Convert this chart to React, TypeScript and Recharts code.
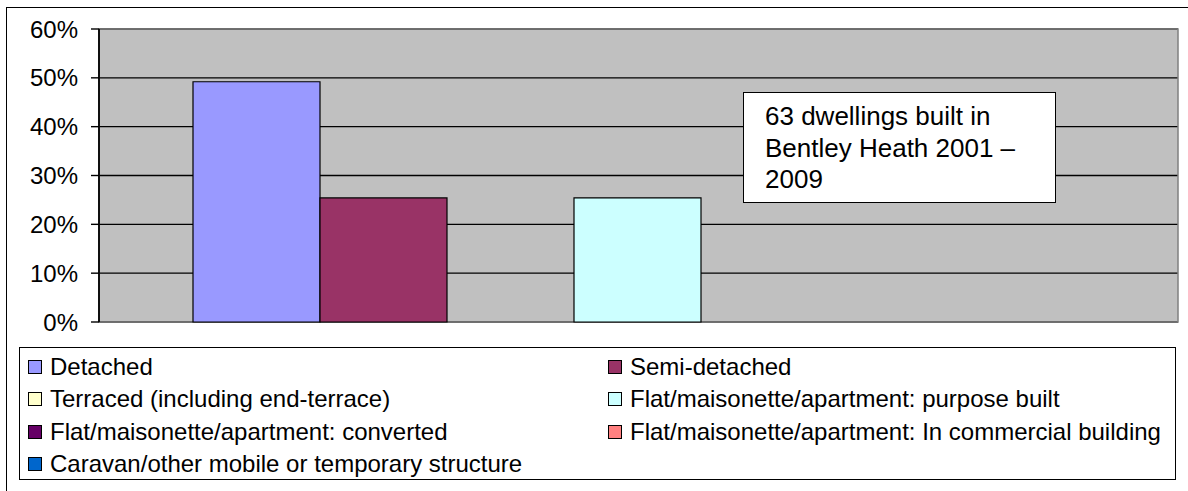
import React from "react";
import { BarChart, Bar, XAxis, YAxis, CartesianGrid, ReferenceArea, Legend } from "recharts";

const categories = ["Bentley Heath"];
const seriesNames = [
  "Detached",
  "Semi-detached",
  "Terraced (including end-terrace)",
  "Flat/maisonette/apartment: purpose built",
  "Flat/maisonette/apartment: converted",
  "Flat/maisonette/apartment: In commercial building",
  "Caravan/other mobile or temporary structure",
];
const seriesValues = [49.2, 25.4, 0, 25.4, 0, 0, 0];
const seriesColors = ["#9999FF", "#993366", "#FFFFCC", "#CCFFFF", "#660066", "#FF8080", "#0066CC"];
const yTicks = [0, 10, 20, 30, 40, 50, 60];
const noteLines = ["63 dwellings built in", "Bentley Heath 2001 –", "2009"];

const data = categories.map((c) => {
  const row: Record<string, string | number> = { cat: c };
  seriesNames.forEach((n, i) => {
    row["s" + i] = seriesValues[i];
  });
  return row;
});

const FONT = "'Liberation Sans', Arial, sans-serif";

const LegendContent = () => (
  <div
    style={{
      boxSizing: "border-box",
      width: 1157,
      height: 133,
      border: "1px solid #000",
      background: "#fff",
      fontFamily: FONT,
      fontSize: 24,
      color: "#000",
      paddingTop: 3,
      display: "grid",
      gridTemplateColumns: "580px auto",
      gridAutoRows: "32.3px",
    }}
  >
    {seriesNames.map((n, i) => (
      <div
        key={n}
        style={{
          display: "flex",
          alignItems: "center",
          paddingLeft: 8,
          whiteSpace: "nowrap",
          lineHeight: "32.3px",
        }}
      >
        <span
          style={{
            display: "inline-block",
            boxSizing: "border-box",
            width: 14,
            height: 14,
            border: "1px solid #000",
            background: seriesColors[i],
            marginRight: 8,
            flex: "none",
          }}
        />
        <span>{n}</span>
      </div>
    ))}
  </div>
);

export default function App() {
  return (
    <div style={{ position: "absolute", left: 0, top: 0, width: 1188, height: 491, overflow: "hidden", background: "#fff" }}>
      <div
        style={{
          position: "absolute",
          left: 6,
          top: 7,
          width: 1200,
          height: 500,
          border: "1.5px solid #000",
          boxSizing: "border-box",
        }}
      />
      <div style={{ position: "absolute", left: 0, top: 0 }}>
        <BarChart
          width={1188}
          height={491}
          data={data}
          margin={{ top: 29, right: 10, bottom: 169, left: 0 }}
          barCategoryGap={94}
          barGap={0}
        >
          <CartesianGrid vertical={false} stroke="#000" strokeWidth={1.4} fill="#C0C0C0" fillOpacity={1} />
          <ReferenceArea y1={0} y2={60} fill="none" stroke="#808080" strokeWidth={1.5} ifOverflow="visible" />
          <XAxis dataKey="cat" hide />
          <YAxis
            width={99}
            domain={[0, 60]}
            ticks={yTicks}
            interval={0}
            tickFormatter={(v: number) => `${v}%`}
            tickSize={8}
            tickMargin={13}
            axisLine={{ stroke: "#000", strokeWidth: 1.8 }}
            tickLine={{ stroke: "#000", strokeWidth: 1.4 }}
            tick={{ fill: "#000", fontSize: 24, fontFamily: FONT }}
          />
          {seriesNames.map((n, i) => (
            <Bar
              key={n}
              dataKey={"s" + i}
              name={n}
              fill={seriesColors[i]}
              stroke="#000"
              strokeWidth={1.2}
              isAnimationActive={false}
            />
          ))}
          <Legend
            verticalAlign="middle"
            layout="horizontal"
            content={<LegendContent />}
            wrapperStyle={{ left: 19, top: 347, width: 1157, height: 133, right: "auto", bottom: "auto" }}
          />
        </BarChart>
      </div>
      <div
        style={{
          position: "absolute",
          left: 743,
          top: 92,
          width: 313,
          height: 111,
          boxSizing: "border-box",
          border: "1.5px solid #000",
          background: "#fff",
          fontFamily: FONT,
          fontSize: 26,
          lineHeight: "31.5px",
          paddingLeft: 21,
          paddingTop: 8,
          color: "#000",
          whiteSpace: "nowrap",
        }}
      >
        {noteLines.map((l) => (
          <div key={l}>{l}</div>
        ))}
      </div>
    </div>
  );
}
